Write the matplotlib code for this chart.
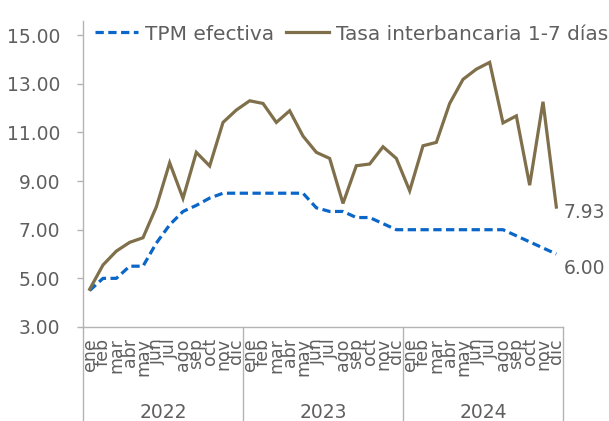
"""
TPM efectiva vs. tasa interbancaria 1-7 días (ene 2022 - dic 2024).
Eje X de dos niveles: meses rotados y años debajo, separados por líneas.
"""

import matplotlib
matplotlib.use("Agg")
import matplotlib.pyplot as plt
from matplotlib.lines import Line2D
from matplotlib.transforms import blended_transform_factory

MESES = ["ene", "feb", "mar", "abr", "may", "jun",
         "jul", "ago", "sep", "oct", "nov", "dic"]
ANIOS = ["2022", "2023", "2024"]

# TPM efectiva (%)
TPM = [4.50, 5.00, 5.00, 5.50, 5.50, 6.45, 7.20, 7.75, 8.00, 8.30, 8.50, 8.50,
       8.50, 8.50, 8.50, 8.50, 8.50, 7.90, 7.75, 7.75, 7.50, 7.50, 7.25, 7.00,
       7.00, 7.00, 7.00, 7.00, 7.00, 7.00, 7.00, 7.00, 6.75, 6.50, 6.25, 6.00]

# Tasa interbancaria 1-7 días (%)
INTERBANCARIA = [4.55, 5.55, 6.12, 6.48, 6.67, 7.94, 9.75, 8.29, 10.18, 9.62, 11.41, 11.92,
                 12.30, 12.19, 11.41, 11.89, 10.85, 10.18, 9.93, 8.08, 9.63, 9.70, 10.41, 9.93,
                 8.60, 10.45, 10.59, 12.19, 13.18, 13.60, 13.88, 11.39, 11.68, 8.83, 12.26, 7.93]

AZUL = "#0a66c8"
MARRON = "#7f6f4a"
GRIS_TEXTO = "#5f5f5f"
GRIS_EJE = "#b3b3b3"
FS = 13.5

plt.rcParams["font.family"] = ["DejaVu Sans"]

fig = plt.figure(figsize=(6.09, 4.21), dpi=100)
ax = fig.add_axes([83 / 609, 1 - 327 / 421, 480 / 609, 306 / 421])

x = list(range(len(TPM)))
l_tpm, = ax.plot(x, TPM, color=AZUL, lw=2.3, dash_capstyle="butt")
l_tpm.set_dashes([2.6, 1.4])
l_int, = ax.plot(x, INTERBANCARIA, color=MARRON, lw=2.3, solid_joinstyle="miter")

ax.set_xlim(-0.5, len(x) - 0.5)
ax.set_ylim(3, 15.58)
ax.set_yticks([3, 5, 7, 9, 11, 13, 15])
ax.set_yticklabels([f"{v:.2f}" for v in [3, 5, 7, 9, 11, 13, 15]])
ax.tick_params(axis="y", length=4.3, width=1, color=GRIS_EJE, pad=12,
               labelsize=FS, labelcolor=GRIS_TEXTO)
ax.set_xticks([])

for lado in ["top", "right"]:
    ax.spines[lado].set_visible(False)
for lado in ["left", "bottom"]:
    ax.spines[lado].set_color(GRIS_EJE)
    ax.spines[lado].set_linewidth(1)

# etiquetas del eje de categorías (meses y años)
trans = blended_transform_factory(ax.transData, ax.transAxes)
for i in x:
    ax.text(i, -0.036, MESES[i % 12], transform=trans, rotation=90,
            ha="center", va="top", fontsize=12.5, color=GRIS_TEXTO)
for k, anio in enumerate(ANIOS):
    ax.text(12 * k + 5.5, -0.28, anio, transform=trans, ha="center",
            va="center", fontsize=FS, color=GRIS_TEXTO)
for k in range(len(ANIOS) + 1):
    ax.add_line(Line2D([12 * k - 0.5] * 2, [0, -0.32], transform=trans,
                       color=GRIS_EJE, lw=1, clip_on=False))

# valores finales
ax.annotate(f"{INTERBANCARIA[-1]:.2f}", (x[-1], INTERBANCARIA[-1]),
            xytext=(7, -5), textcoords="offset pixels", ha="left",
            va="center", fontsize=FS, color=GRIS_TEXTO, annotation_clip=False)
ax.annotate(f"{TPM[-1]:.2f}", (x[-1], TPM[-1]),
            xytext=(7, -14), textcoords="offset pixels", ha="left",
            va="center", fontsize=FS, color=GRIS_TEXTO, annotation_clip=False)

fig.legend([l_tpm, l_int], ["TPM efectiva", "Tasa interbancaria 1-7 días"],
           loc="center left", bbox_to_anchor=(95 / 609, 1 - 34 / 421),
           ncol=2, frameon=False, borderpad=0, borderaxespad=0,
           handlelength=2.15, handletextpad=0.35, columnspacing=0.55,
           fontsize=14.5, labelcolor=GRIS_TEXTO)

fig.savefig("out.png", dpi=100)
